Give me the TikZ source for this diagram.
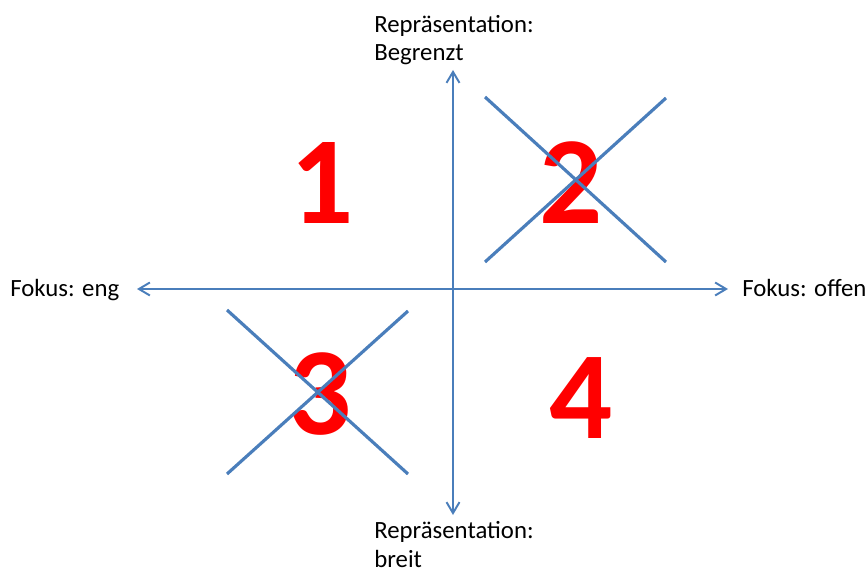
\documentclass[tikz,border=0pt]{standalone}
\usepackage{fontspec}
\setmainfont{Carlito}
\usepackage{xcolor}
\usetikzlibrary{
    arrows.meta,
    positioning
}
\definecolor{axisblue}{RGB}{74,126,187}

\begin{document}
\begin{tikzpicture}[
x=0.02cm, y=-0.02cm,
axis/.style={
draw=axisblue,
line width=1.1pt,
{Straight Barb[length=2.2mm,width=2.6mm]}-{Straight Barb[length=2.2mm,width=2.6mm]}
},
strike/.style={
draw=axisblue,
line width=1.8pt
},
lbl/.style={
inner sep=0pt,
anchor=base west,
align=left,
font=\fontsize{14.1}{16.5}\selectfont
},
num/.style={
inner sep=0pt,
text=red,
font=\fontsize{71}{71}\selectfont\bfseries
}
]

\useasboundingbox (0,0) rectangle (868,573);

% axis ends
\coordinate (yTop) at (453,70);
\coordinate (yBot) at (453,515);
\coordinate (xLeft) at (137,289);
\coordinate (xRight) at (728,289);

% labels (base = last line)
\node[lbl] (repTop) at (374,61)
{Repräsentation:\\Begrenzt};
\node[lbl] (repBot) at (374,567)
{Repräsentation:\\breit};
\node[lbl] (fokEng) at (10,297)
{Fokus: eng};
\node[lbl] (fokOff) at (742,297)
{Fokus: offen};

% quadrants
\node[num] (q1) at (322,183) {1};
\node[num] (q2) at (571,183) {2};
\node[num] (q3) at (320,394) {3};
\node[num] (q4) at (581,398) {4};

\draw[axis] (yTop) -- (yBot);
\draw[axis] (xLeft) -- (xRight);

% crossed out
\draw[strike] (485,97) -- (666,262);
\draw[strike] (666,98) -- (485,262);
\draw[strike] (227,310) -- (408,474);
\draw[strike] (408,311) -- (227,474);

\end{tikzpicture}
\end{document}
